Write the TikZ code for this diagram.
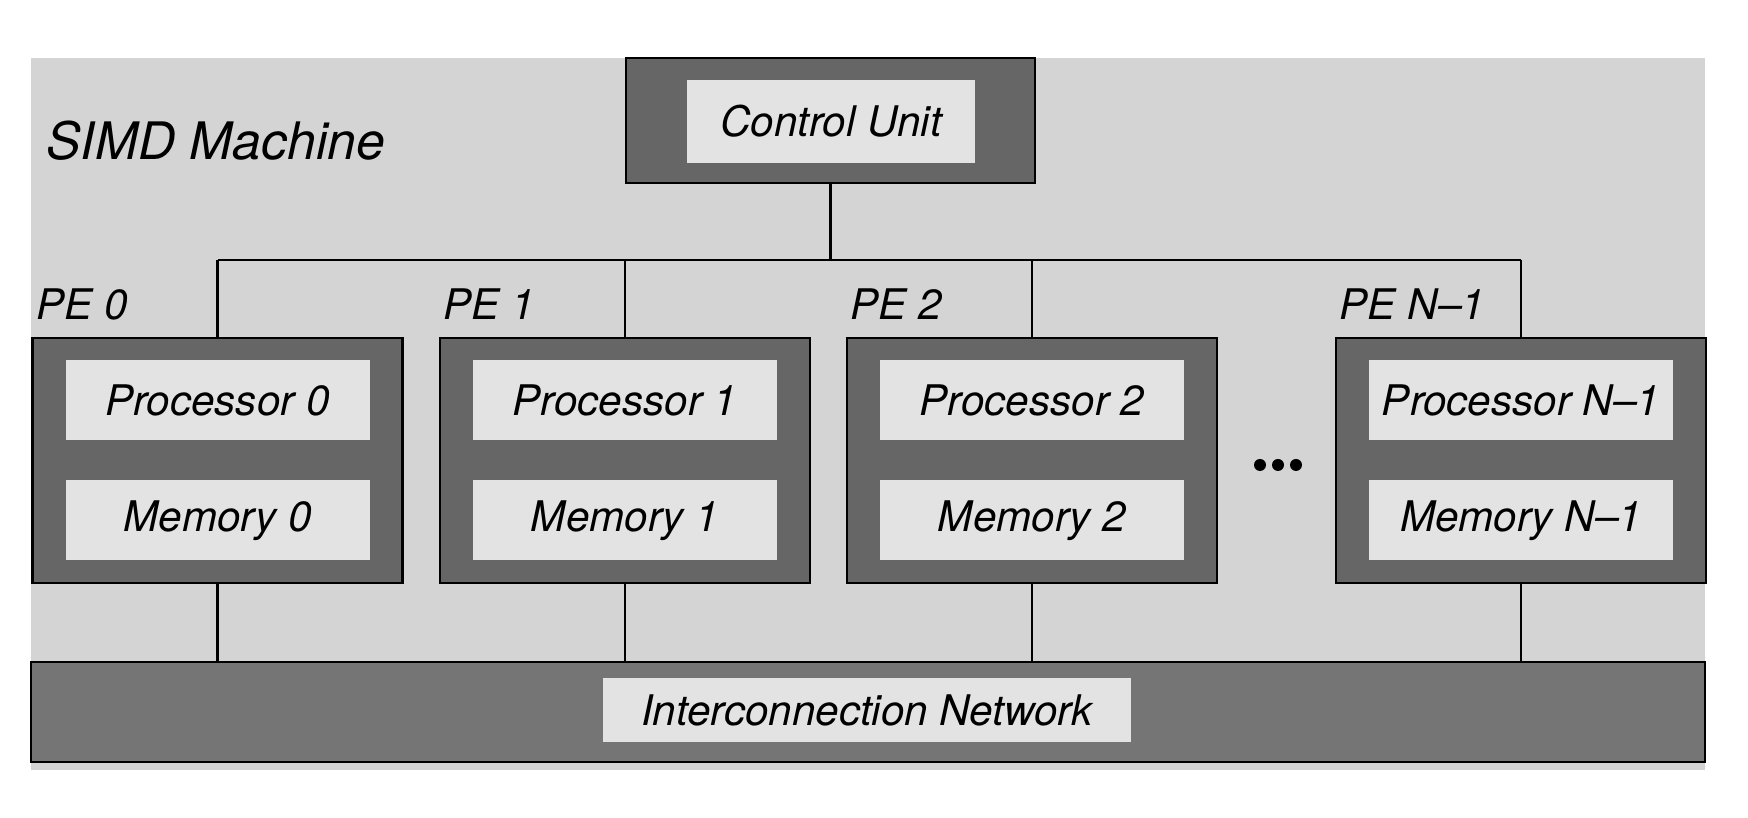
\documentclass[tikz,border=0pt]{standalone}
\usepackage{fontspec}
\setmainfont{TeX Gyre Heros}
\definecolor{bggray}{gray}{0.83}
\definecolor{innergray}{gray}{0.89}
\definecolor{shellgray}{gray}{0.40}
\definecolor{netgray}{gray}{0.46}
\begin{document}
\begin{tikzpicture}[
    font=\fontsize{12}{14}\selectfont\itshape,
    shell/.style={draw=black, line width=0.6pt, fill=shellgray, minimum width=3.70cm, minimum height=2.45cm, inner sep=0pt},
    unit/.style={fill=innergray, minimum width=3.04cm, minimum height=0.80cm, inner sep=0pt},
    wire/.style={line width=0.8pt}
  ]
  \useasboundingbox (0,0) rectangle (17.48,8.18);
  \fill[bggray] (0.31,0.48) rectangle (17.05,7.60);

  % control unit
  \node[shell, minimum width=4.09cm, minimum height=1.25cm] (cu) at (8.305,6.975) {};
  \node[unit, minimum width=2.88cm, minimum height=0.83cm] (cutext) at (8.31,6.965) {Control Unit};
  \node[anchor=base west, font=\fontsize{14.7}{17}\selectfont\itshape] (title) at (0.34,6.58) {SIMD Machine};

  % network
  \node[shell, fill=netgray, minimum width=16.74cm, minimum height=1.00cm] (net) at (8.68,1.06) {};
  \node[unit, minimum width=5.28cm, minimum height=0.64cm] (nettext) at (8.67,1.08) {Interconnection Network};

  \foreach \i/\x/\n in {0/2.175/0, 1/6.25/1, 2/10.32/2, 3/15.21/N\textendash 1} {
      \node[shell] (pe\i) at (\x,3.575) {};
      \node[unit] (proc\i) at (\x,4.18) {Processor \n};
      \node[unit] (mem\i) at (\x,2.975) {Memory \n};
      \node[anchor=base west, inner sep=0pt] (lab\i) at ([xshift=0.04cm, yshift=0.17cm]pe\i.north west) {PE \n};
      \coordinate (bus\i) at (\x,5.58);
      \draw[wire] (pe\i.north) -- (bus\i);
      \draw[wire] (pe\i.south) -- (pe\i.south |- net.north);
  }
  \draw[wire] (bus0) -- (bus3);
  \draw[wire] (cu.south) -- (cu.south |- bus0);

  % dots
  \foreach \j in {0,1,2} {
      \node[circle, fill=black, inner sep=0pt, minimum size=0.12cm] (dot\j) at ({12.60+0.18*\j},3.53) {};
  }
\end{tikzpicture}
\end{document}
